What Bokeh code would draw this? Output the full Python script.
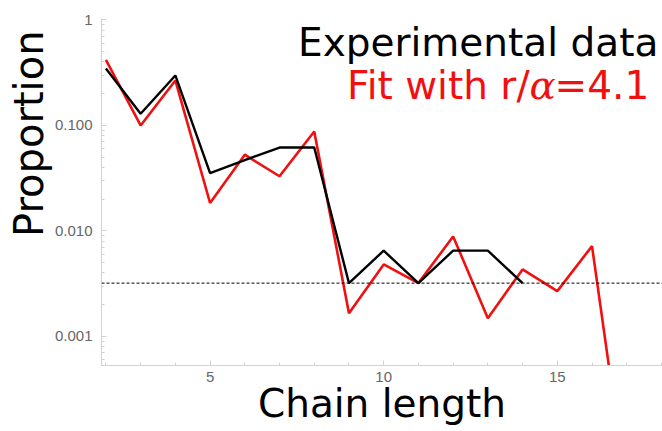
from bokeh.embed import file_html
from bokeh.models import FixedTicker, Label, Range1d, Span, Title
from bokeh.plotting import figure
from bokeh.resources import INLINE

# Chain-length distribution: measured proportions and the model fit
chain_length_exp = [2, 3, 4, 5, 6, 7, 8, 9, 10, 11, 12, 13, 14]
proportion_exp = [0.347, 0.129, 0.298, 0.0353, 0.047, 0.0618, 0.0618,
                  0.0032, 0.0065, 0.0032, 0.0065, 0.0065, 0.0032]

chain_length_fit = [2, 3, 4, 5, 6, 7, 8, 9, 10, 11, 12, 13, 14, 15, 16, 17]
proportion_fit = [0.419, 0.100, 0.267, 0.0184, 0.0528, 0.033, 0.0878,
                  0.00166, 0.00481, 0.0032, 0.00887, 0.00149, 0.00432,
                  0.00269, 0.00718, 0.000033]

# proportion corresponding to a single observed chain
single_chain_level = 0.0032

x_major_ticks = [5, 10, 15]
y_major_ticks = [0.001, 0.01, 0.1, 1]
y_tick_labels = ["0.001", "0.010", "0.100", "1"]

SANS = "DejaVu Sans"
TICK_FONT = "Liberation Sans"
AXIS_GREY = "#d2d2d2"
TICK_TEXT = "#666666"
FIT_RED = "#f01010"

p = figure(
    width=662, height=431,
    y_axis_type="log",
    x_range=Range1d(1.873, 18.03),
    y_range=Range1d(0.00053, 1.033),
    output_backend="svg",
    toolbar_location=None,
    min_border_left=101, min_border_right=0,
    min_border_top=18, min_border_bottom=66,
)
p.outline_line_color = None
p.background_fill_color = "white"
p.border_fill_color = "white"
p.xgrid.visible = False
p.ygrid.visible = False

# axes
p.xaxis.ticker = FixedTicker(ticks=x_major_ticks,
                             minor_ticks=list(range(2, 19)))
p.yaxis.ticker = FixedTicker(
    ticks=y_major_ticks,
    minor_ticks=[k * 10.0 ** e for e in (-4, -3, -2, -1) for k in range(2, 10)],
)
p.yaxis.major_label_overrides = dict(zip(y_major_ticks, y_tick_labels))

for ax in (p.xaxis[0], p.yaxis[0]):
    ax.axis_line_color = AXIS_GREY
    ax.axis_line_width = 1
    ax.major_tick_line_color = AXIS_GREY
    ax.minor_tick_line_color = AXIS_GREY
    ax.major_tick_in = 5
    ax.major_tick_out = 0
    ax.minor_tick_in = 3
    ax.minor_tick_out = 0
    ax.major_label_text_font = TICK_FONT
    ax.major_label_text_font_size = "15px"
    ax.major_label_text_color = TICK_TEXT
p.xaxis.major_label_standoff = 6
p.yaxis.major_label_standoff = 9

# x axis title, tucked close to the tick labels
p.xaxis.axis_label = "Chain length"
p.xaxis.axis_label_text_font = SANS
p.xaxis.axis_label_text_font_size = "39px"
p.xaxis.axis_label_text_font_style = "normal"
p.xaxis.axis_label_text_color = "black"
p.xaxis.axis_label_standoff = -4

# y axis title, placed toward the top of the left side
p.add_layout(Title(text="Proportion", align="right", offset=12,
                   text_font=SANS, text_font_size="40px",
                   text_font_style="normal", text_color="black",
                   standoff=0), "left")

# reference level for one chain
p.add_layout(Span(location=single_chain_level, dimension="width",
                  line_color="black", line_width=1, line_dash="3 2"))

# data
p.line(chain_length_fit, proportion_fit, line_color=FIT_RED, line_width=2.6)
p.line(chain_length_exp, proportion_exp, line_color="black", line_width=2.4)

# legend text
p.add_layout(Label(x=17.91, y=0.612, text="Experimental data",
                   text_font=SANS, text_font_size="39px", text_color="black",
                   text_align="right", text_baseline="alphabetic"))
p.add_layout(Label(x=14.20, y=0.2394, text="Fit with r/",
                   text_font=SANS, text_font_size="39px", text_color=FIT_RED,
                   text_align="right", text_baseline="alphabetic"))
p.add_layout(Label(x=14.58, y=0.2394, text="\u03b1",
                   text_font="DejaVu Serif", text_font_style="italic",
                   text_font_size="39px", text_color=FIT_RED,
                   text_align="center", text_baseline="alphabetic"))
p.add_layout(Label(x=14.92, y=0.2394, text="=4.1",
                   text_font=SANS, text_font_size="39px", text_color=FIT_RED,
                   text_align="left", text_baseline="alphabetic"))

open("out.html", "w").write(file_html(p, INLINE))
